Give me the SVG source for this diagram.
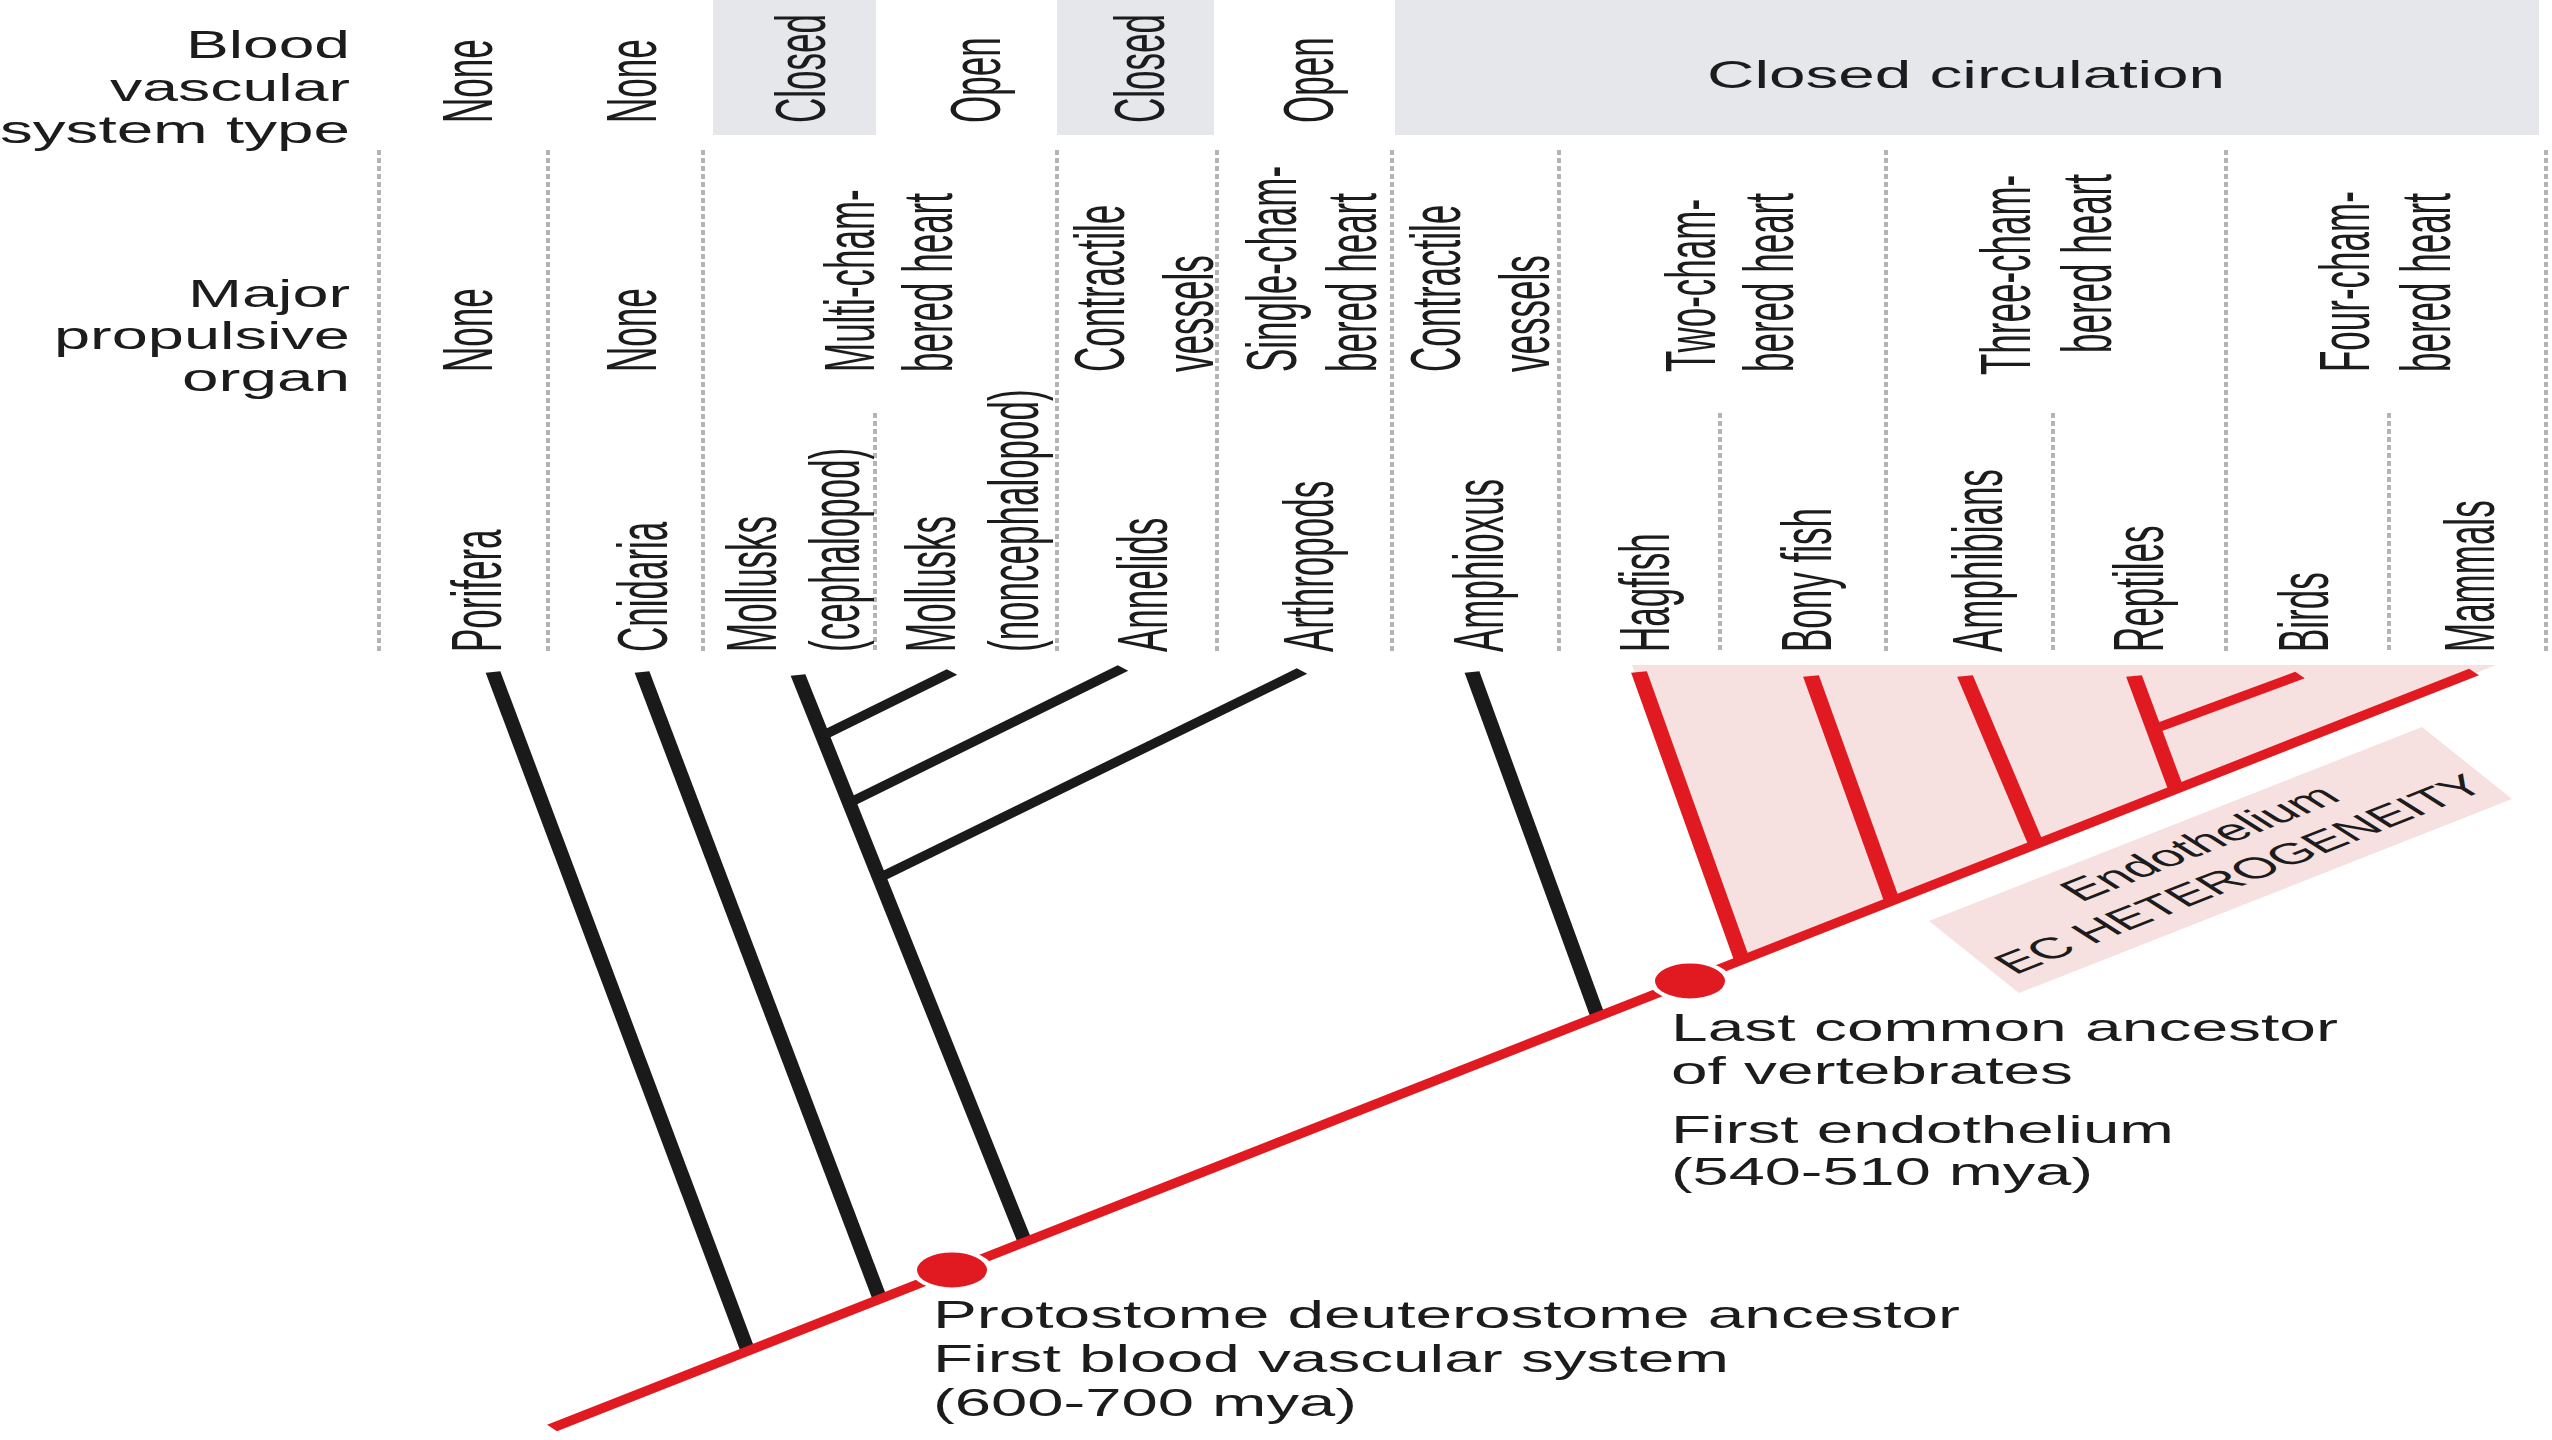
<svg xmlns="http://www.w3.org/2000/svg" width="2552" height="1440" viewBox="0 0 2552 1440">
<style>
text{font-family:"Liberation Sans",Arial,Helvetica,sans-serif;fill:#1c1c1c}
.h{font-size:39px;text-anchor:end}
.r{font-size:35px}
.b{font-size:38px}
.box{fill:#e6e7eb}
.sep{stroke:#b4b4b4;stroke-width:2;stroke-dasharray:5 3;fill:none}
.blk{stroke:#1a1a1a;stroke-width:7.5;fill:none}
.red{stroke:#e01a20;stroke-width:8;fill:none}
.dot{fill:#e01a20;stroke:#ffffff;stroke-width:3}
.pink{fill:#f7e0e0}
</style>
<rect width="2552" height="1440" fill="#ffffff"/>
<g transform="scale(2,1)">
  <g id="header">
    <rect class="box" x="356.5" y="0" width="81.5" height="135"/>
    <rect class="box" x="528.5" y="0" width="78.5" height="135"/>
    <rect class="box" x="697.5" y="0" width="572" height="135"/>
    <text class="h" x="175" y="58" textLength="82" lengthAdjust="spacingAndGlyphs">Blood</text>
    <text class="h" x="175" y="101" textLength="120" lengthAdjust="spacingAndGlyphs">vascular</text>
    <text class="h" x="175" y="143" textLength="175" lengthAdjust="spacingAndGlyphs">system type</text>
    <text class="h" x="175" y="307" textLength="81" lengthAdjust="spacingAndGlyphs">Major</text>
    <text class="h" x="175" y="349" textLength="148" lengthAdjust="spacingAndGlyphs">propulsive</text>
    <text class="h" x="175" y="391" textLength="84" lengthAdjust="spacingAndGlyphs">organ</text>
    <text class="b" x="853.5" y="88" textLength="259" lengthAdjust="spacingAndGlyphs">Closed circulation</text>
  </g>
  <g id="separators">
    <path class="sep" d="M189.5 150V653M274 150V653M351.5 150V653M528.5 150V653M608.5 150V653M696 150V653M779.5 150V653M943 150V653M1113 150V653M1273 150V653"/>
    <path class="sep" d="M437.5 413V653M860 413V653M1026.5 413V653M1194.5 413V653"/>
  </g>
  <g id="vascular-type">
    <text class="r" transform="rotate(-90 246 123)" x="246" y="123">None</text>
    <text class="r" transform="rotate(-90 328 123)" x="328" y="123">None</text>
    <text class="r" transform="rotate(-90 412.5 123)" x="412.5" y="123">Closed</text>
    <text class="r" transform="rotate(-90 500 123)" x="500" y="123">Open</text>
    <text class="r" transform="rotate(-90 582 123)" x="582" y="123">Closed</text>
    <text class="r" transform="rotate(-90 666.5 123)" x="666.5" y="123">Open</text>
  </g>
  <g id="propulsive-organ">
    <text class="r" transform="rotate(-90 246 372)" x="246" y="372">None</text>
    <text class="r" transform="rotate(-90 328 372)" x="328" y="372">None</text>
    <text class="r" transform="rotate(-90 437 372)" x="437" y="372">Multi-cham-</text>
    <text class="r" transform="rotate(-90 476 372)" x="476" y="372">bered heart</text>
    <text class="r" transform="rotate(-90 562 372)" x="562" y="372">Contractile</text>
    <text class="r" transform="rotate(-90 606.5 372)" x="606.5" y="372">vessels</text>
    <text class="r" transform="rotate(-90 648 372)" x="648" y="372">Single-cham-</text>
    <text class="r" transform="rotate(-90 688 372)" x="688" y="372">bered heart</text>
    <text class="r" transform="rotate(-90 730 372)" x="730" y="372">Contractile</text>
    <text class="r" transform="rotate(-90 774.5 372)" x="774.5" y="372">vessels</text>
    <text class="r" transform="rotate(-90 857.5 372)" x="857.5" y="372">Two-cham-</text>
    <text class="r" transform="rotate(-90 896.5 372)" x="896.5" y="372">bered heart</text>
    <text class="r" transform="rotate(-90 1015 375)" x="1015" y="375">Three-cham-</text>
    <text class="r" transform="rotate(-90 1055.5 353)" x="1055.5" y="353">bered heart</text>
    <text class="r" transform="rotate(-90 1184.5 372)" x="1184.5" y="372">Four-cham-</text>
    <text class="r" transform="rotate(-90 1225 372)" x="1225" y="372">bered heart</text>
  </g>
  <g id="pink-area">
    <polygon class="pink" points="816,665 1248,665 872,962"/>
    <polygon class="pink" points="964.5,921 1211,727 1256,799 1009.5,993"/>
  </g>
  <g id="connectors">
    <path class="blk" d="M246.5 672L374 1351"/>
    <path class="blk" d="M321 672L440 1299"/>
    <path class="blk" d="M399 675L512.5 1242"/>
    <path class="blk" d="M411 736L476 672"/>
    <path class="blk" d="M424.5 803L561.5 668"/>
    <path class="blk" d="M439.5 878L651 671"/>
    <path class="blk" d="M736 672L799 1017"/>
    <path class="red" d="M276 1428L1237 672"/>
    <path class="red" d="M819.5 672L871 960"/>
    <path class="red" d="M905.5 676L946 901"/>
    <path class="red" d="M982.5 676L1018 844"/>
    <path class="red" d="M1067 676L1088 789"/>
    <path class="red" d="M1077 729L1150 675"/>
  </g>
  <g id="taxa">
    <text class="r" transform="rotate(-90 250.5 652)" x="250.5" y="652">Porifera</text>
    <text class="r" transform="rotate(-90 333.5 652)" x="333.5" y="652">Cnidaria</text>
    <text class="r" transform="rotate(-90 388 652)" x="388" y="652">Mollusks</text>
    <text class="r" transform="rotate(-90 429.5 652)" x="429.5" y="652">(cephalopod)</text>
    <text class="r" transform="rotate(-90 477.5 652)" x="477.5" y="652">Mollusks</text>
    <text class="r" transform="rotate(-90 519 652)" x="519" y="652">(noncephalopod)</text>
    <text class="r" transform="rotate(-90 583.5 652)" x="583.5" y="652">Annelids</text>
    <text class="r" transform="rotate(-90 666.5 652)" x="666.5" y="652">Arthropods</text>
    <text class="r" transform="rotate(-90 751.5 652)" x="751.5" y="652">Amphioxus</text>
    <text class="r" transform="rotate(-90 834.5 652)" x="834.5" y="652">Hagfish</text>
    <text class="r" transform="rotate(-90 915.5 652)" x="915.5" y="652">Bony fish</text>
    <text class="r" transform="rotate(-90 1001 652)" x="1001" y="652">Amphibians</text>
    <text class="r" transform="rotate(-90 1081.5 652)" x="1081.5" y="652">Reptiles</text>
    <text class="r" transform="rotate(-90 1164 652)" x="1164" y="652">Birds</text>
    <text class="r" transform="rotate(-90 1247 652)" x="1247" y="652">Mammals</text>
  </g>
  <g id="heterogeneity-label">
    <text style="font-size:30px" text-anchor="middle" transform="rotate(-38.2 1106 851)" x="1106" y="851">Endothelium</text>
    <text style="font-size:29.5px" text-anchor="middle" transform="rotate(-38.2 1126 882)" x="1126" y="882">EC HETEROGENEITY</text>
  </g>
  <g id="node-protostome">
    <circle class="dot" cx="476" cy="1270" r="19"/>
    <text class="b" x="466.5" y="1328" textLength="513.5" lengthAdjust="spacingAndGlyphs">Protostome deuterostome ancestor</text>
    <text class="b" x="466.5" y="1372" textLength="398" lengthAdjust="spacingAndGlyphs">First blood vascular system</text>
    <text class="b" x="466.5" y="1416" textLength="212" lengthAdjust="spacingAndGlyphs">(600-700 mya)</text>
  </g>
  <g id="node-vertebrates">
    <circle class="dot" cx="845" cy="981" r="19"/>
    <text class="b" x="835.5" y="1041" textLength="333.5" lengthAdjust="spacingAndGlyphs">Last common ancestor</text>
    <text class="b" x="835.5" y="1084" textLength="201" lengthAdjust="spacingAndGlyphs">of vertebrates</text>
    <text class="b" x="835.5" y="1143" textLength="251.5" lengthAdjust="spacingAndGlyphs">First endothelium</text>
    <text class="b" x="835.5" y="1185" textLength="211" lengthAdjust="spacingAndGlyphs">(540-510 mya)</text>
  </g>
</g>
</svg>
